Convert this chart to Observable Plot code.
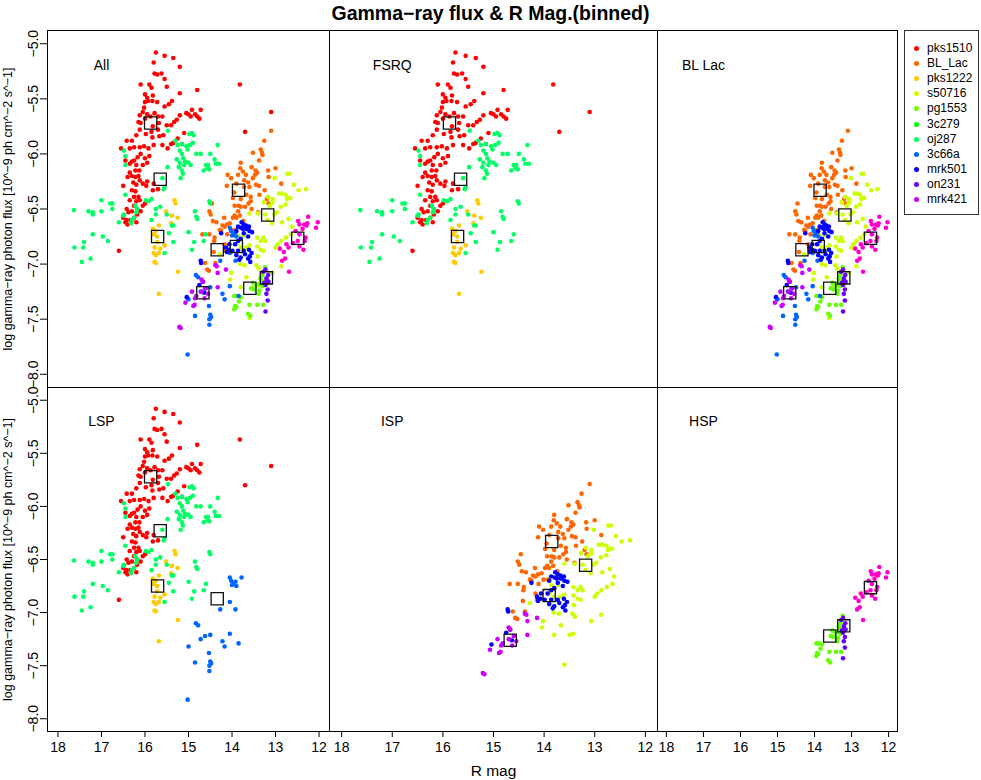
<!DOCTYPE html>
<html><head><meta charset="utf-8">
<script src="https://cdn.jsdelivr.net/npm/d3@7"></script>
<script src="https://cdn.jsdelivr.net/npm/@observablehq/plot@0.6"></script>
<style>
body{margin:0;background:#fff;font-family:"Liberation Sans",Arial,Helvetica,sans-serif;}
#root{position:relative;width:981px;height:780px;overflow:hidden;background:#fff;}
.abs{position:absolute;}
#title{left:0;top:0;width:981px;text-align:center;font-weight:bold;font-size:19.5px;line-height:26px;color:#000;}
#legend{left:904px;top:30px;width:75px;height:185px;border:1px solid #333;box-sizing:border-box;}
.li{position:absolute;font-size:12px;line-height:14px;color:#000;white-space:nowrap;}
.ld{position:absolute;width:5px;height:5px;border-radius:50%;}
</style></head><body><div id="root"><div id="title" class="abs">Gamma−ray flux &amp; R Mag.(binned)</div><div id="legend" class="abs"></div></div>
<script>
// ---- data ----
const sources = ["pks1510","BL_Lac","pks1222","s50716","pg1553","3c279","oj287","3c66a","mrk501","on231","mrk421"];
const legendColors = ["#FF0000","#FF6600","#FFCC00","#CCFF00","#66FF00","#00FF00","#00FF66","#0066FF","#0000FF","#6600FF","#CC00FF"];
const pointColors  = ["#FF0000","#FF6600","#FFCC00","#CCFF00","#66FF00","#00FF66","#0066FF","#0000FF","#6600FF","#CC00FF","#FF00CC"];
const binRmag = [15.87,13.85,15.71,13.18,13.59,15.65,14.34,13.9,13.21,14.67,12.49];
const binFlux = [-5.72,-6.33,-6.75,-6.555,-7.22,-6.23,-6.87,-6.84,-7.125,-7.26,-6.765];
const fsrqList = ["pks1510","pks1222","3c279"];
const bllacList = ["BL_Lac","s50716","pg1553","oj287","3c66a","mrk501","on231","mrk421"];
const lspList = ["pks1510","pks1222","3c279","oj287"];
const ispList = ["BL_Lac","s50716","3c66a","on231"];
const hspList = ["pg1553","mrk501","mrk421"];
const xTicks = [18,17,16,15,14,13,12];
const yTicks = [-8,-7.5,-7,-6.5,-6,-5.5,-5];

const pks1510 = [[15.75,-5.08],[15.55,-5.11],[15.35,-5.13],[15.8,-5.17],[15.78,-5.27],[15.72,-5.28],[15.62,-5.27],[15.2,-5.21],[15.55,-5.32],[16.1,-5.37],[15.9,-5.37],[15.85,-5.4],[15.5,-5.39],[15.2,-5.45],[15.82,-5.47],[16.0,-5.46],[15.95,-5.49],[16.0,-5.53],[16.02,-5.58],[15.93,-5.52],[15.83,-5.52],[15.72,-5.53],[15.55,-5.57],[15.45,-5.55],[15.38,-5.52],[16.05,-5.62],[16.12,-5.65],[16.15,-5.71],[16.1,-5.72],[16.12,-5.78],[16.0,-5.68],[15.95,-5.64],[15.87,-5.66],[15.78,-5.63],[15.7,-5.66],[15.6,-5.66],[15.68,-5.72],[15.82,-5.75],[15.7,-5.78],[15.85,-5.8],[15.98,-5.82],[15.83,-5.85],[15.67,-5.84],[15.58,-5.83],[15.5,-5.74],[15.4,-5.74],[15.33,-5.71],[15.27,-5.69],[15.2,-5.65],[15.05,-5.63],[15.0,-5.64],[14.95,-5.66],[14.92,-5.6],[14.85,-5.64],[14.8,-5.66],[14.75,-5.68],[14.72,-5.6],[14.8,-5.42],[15.1,-5.81],[15.25,-5.86],[15.35,-5.9],[15.4,-5.91],[15.15,-5.91],[16.2,-5.83],[16.3,-5.88],[15.48,-5.95],
[16.42,-5.88],[16.55,-5.95],[16.35,-5.95],[16.25,-5.94],[16.12,-5.94],[16.02,-5.93],[15.92,-5.95],[15.8,-5.92],[15.6,-5.92],[15.9,-6.02],[16.0,-6.04],[16.1,-6.0],[16.17,-6.03],[16.25,-6.06],[16.3,-6.07],[16.35,-6.09],[16.45,-6.06],[16.2,-6.1],[16.05,-6.1],[15.95,-6.08],[16.22,-6.15],[16.13,-6.15],[16.22,-6.21],[16.15,-6.2],[16.35,-6.17],[16.3,-6.2],[16.4,-6.21],[16.27,-6.26],[16.2,-6.28],[16.12,-6.24],[16.05,-6.27],[15.95,-6.25],[15.8,-6.27],[15.7,-6.32],[15.82,-6.33],[15.97,-6.29],[16.5,-6.29],[16.3,-6.33],[16.22,-6.34],[16.25,-6.39],[16.15,-6.39],[16.2,-6.43],[16.25,-6.47],[16.18,-6.5],[16.05,-6.47],[16.12,-6.42],[16.35,-6.42],[16.3,-6.52],[16.18,-6.55],[16.25,-6.58],[16.2,-6.62],[16.33,-6.6],[16.42,-6.6],[16.4,-6.64],[16.45,-6.62],[16.38,-6.53],[16.5,-6.58],[16.42,-6.5],[16.1,-6.52],[16.0,-6.45],
[13.82,-5.37],[13.1,-5.62],[13.7,-5.8],[16.6,-6.88]];
const BL_Lac = [[13.1,-5.79],[13.26,-5.88],[13.34,-5.96],[13.31,-5.99],[13.3,-6.01],[13.52,-5.99],[13.38,-6.06],[13.55,-6.12],[13.8,-6.08],[13.81,-6.13],[13.46,-6.15],[13.42,-6.17],[13.47,-6.19],[13.75,-6.16],[13.68,-6.19],[13.86,-6.19],[14.1,-6.19],[14.02,-6.22],[13.72,-6.24],[13.63,-6.26],[13.45,-6.28],[13.38,-6.29],[13.17,-6.15],[13.0,-6.13],[13.16,-6.21],[12.87,-6.27],[13.67,-6.37],[13.57,-6.39],[13.57,-6.43],[13.37,-6.37],[13.2,-6.41],[13.16,-6.45],[13.8,-6.41],[13.85,-6.47],[13.94,-6.47],[13.8,-6.48],[13.7,-6.48],[13.86,-6.52],[13.94,-6.56],[13.98,-6.58],[13.95,-6.35],[14.12,-6.29],[14.46,-6.45],[14.52,-6.52],[14.49,-6.55],[14.44,-6.61],[14.18,-6.58],[14.12,-6.64],[14.22,-6.65],[14.28,-6.69],[14.17,-6.66],[14.25,-6.7],[14.36,-6.62],[14.4,-6.76],[14.41,-6.79],[14.68,-6.73],[14.52,-6.73],[14.11,-6.73],[14.01,-6.69],[13.92,-6.69],[14.14,-6.88],[14.42,-6.89],[14.17,-6.82],[14.62,-6.99],[14.57,-7.05],[14.53,-7.06],[14.38,-6.99],[13.9,-6.58],[13.74,-6.61],[13.4,-6.53],[13.55,-6.5],[13.6,-6.3],[13.52,-6.22],[13.9,-6.27],[13.72,-6.3],[13.25,-6.33],[13.62,-6.45],[14.05,-6.63],[13.98,-6.4],[13.82,-6.56]];
const pks1222 = [[15.32,-6.42],[15.3,-6.45],[15.25,-6.58],[15.38,-6.56],[15.52,-6.52],[15.4,-6.63],[15.82,-6.68],[15.75,-6.7],[15.68,-6.65],[15.8,-6.73],[15.72,-6.75],[15.78,-6.85],[15.65,-6.86],[15.8,-6.9],[15.75,-6.92],[15.78,-6.98],[15.75,-6.99],[15.68,-6.9],[15.55,-6.83],[15.24,-7.07],[15.68,-7.27],[15.72,-6.8]];
const s50716 = [[12.73,-6.18],[12.68,-6.18],[13.02,-6.22],[12.58,-6.28],[12.3,-6.32],[12.47,-6.33],[12.92,-6.36],[12.85,-6.36],[12.77,-6.37],[12.66,-6.4],[12.74,-6.41],[12.7,-6.4],[13.07,-6.41],[13.17,-6.39],[13.07,-6.44],[13.27,-6.44],[12.77,-6.46],[12.88,-6.48],[12.97,-6.53],[13.13,-6.47],[13.6,-6.54],[13.4,-6.54],[13.24,-6.55],[13.18,-6.6],[13.03,-6.55],[13.08,-6.63],[12.85,-6.62],[12.7,-6.59],[12.62,-6.66],[12.65,-6.73],[12.76,-6.76],[12.87,-6.79],[12.95,-6.82],[13.0,-6.85],[13.28,-6.76],[13.34,-6.79],[13.24,-6.79],[13.42,-6.76],[13.42,-6.84],[13.34,-6.87],[13.28,-6.88],[13.41,-6.93],[13.6,-6.83],[13.68,-6.85],[13.8,-6.85],[13.9,-6.82],[14.28,-6.91],[14.02,-7.08],[14.04,-7.14],[13.81,-7.0],[13.71,-7.01],[13.67,-7.12],[13.8,-7.21],[13.44,-7.01],[13.39,-7.04],[13.43,-7.2],[13.49,-7.21],[12.87,-7.02],[13.07,-7.08],[13.6,-7.49],[13.86,-6.74],[13.72,-6.74]];
const pg1553 = [[13.24,-7.03],[13.3,-7.1],[13.32,-7.15],[13.37,-7.18],[13.43,-7.19],[13.52,-7.17],[13.56,-7.22],[13.49,-7.23],[13.37,-7.24],[13.39,-7.27],[13.95,-7.29],[13.87,-7.29],[13.8,-7.3],[13.84,-7.34],[13.93,-7.38],[13.95,-7.41],[13.9,-7.39],[13.6,-7.37],[13.42,-7.37],[13.28,-7.37],[13.63,-7.45],[13.58,-7.47],[13.3,-7.2],[13.35,-7.13]];
const c3c279 = [[15.47,-5.79],[15.3,-5.88],[15.25,-5.92],[15.15,-5.91],[15.05,-5.93],[15.02,-5.96],[14.97,-5.92],[14.9,-5.9],[15.2,-5.97],[15.15,-6.0],[15.12,-6.04],[15.08,-6.07],[15.0,-6.08],[14.95,-6.1],[15.2,-6.08],[15.22,-6.12],[15.15,-6.15],[15.13,-6.18],[15.18,-6.22],[15.1,-6.1],[15.27,-6.05],[14.82,-6.0],[14.72,-6.0],[14.5,-6.0],[14.4,-6.05],[14.33,-5.92],[14.3,-6.09],[14.37,-6.09],[14.55,-6.1],[14.6,-6.1],[14.57,-6.13],[14.52,-6.14],[14.65,-6.15],[14.98,-5.82],[14.92,-5.81],[14.88,-5.83],[15.48,-6.12],[15.55,-6.3],[15.57,-6.32],[15.6,-6.22],
[16.48,-5.97],[16.45,-6.02],[16.45,-6.1],[16.45,-6.37],[16.48,-6.55],[16.5,-6.56],[16.22,-6.47],[16.18,-6.5],[16.2,-6.53],[16.25,-6.58],[16.3,-6.6],[16.32,-6.63],[16.6,-6.62],[16.8,-6.45],[16.75,-6.45],[16.75,-6.5],[17.0,-6.42],[17.0,-6.52],[17.2,-6.53],[17.2,-6.55],[17.3,-6.52],[17.63,-6.51],[17.2,-6.73],[16.97,-6.75],[16.85,-6.79],[17.4,-6.8],[17.42,-6.85],[17.62,-6.85],[17.25,-6.95],[17.45,-6.98],[15.98,-6.42],[15.92,-6.43],[15.85,-6.41],[15.75,-6.5],[15.75,-6.55],[15.65,-6.48],[15.85,-6.6],[15.5,-6.55],[15.45,-6.72],[15.38,-6.65],[15.35,-6.8],[15.55,-6.9],[15.0,-6.71],[14.85,-6.52],[14.82,-6.57],[14.8,-6.59],[14.92,-6.87],[14.87,-6.8],[14.6,-6.73],[14.65,-6.79],[14.52,-6.43],[14.5,-6.45],[15.35,-6.65]];
const oj287 = [[13.78,-6.67],[14.05,-6.67],[14.02,-6.7],[13.97,-6.73],[13.92,-6.71],[13.9,-6.75],[14.0,-6.74],[14.27,-6.97],[14.05,-6.9],[13.92,-6.97],[14.83,-7.1],[14.78,-7.12],[14.72,-7.25],[14.62,-7.22],[14.5,-7.21],[14.22,-7.27],[14.17,-7.32],[14.05,-7.2],[13.85,-7.29],[15.0,-7.32],[14.53,-7.38],[14.85,-7.47],[14.5,-7.46],[14.48,-7.48],[14.52,-7.5],[14.52,-7.55],[15.02,-7.82]];
const c3c66a = [[13.78,-6.62],[13.73,-6.64],[13.68,-6.65],[13.61,-6.66],[13.79,-6.67],[13.86,-6.66],[13.75,-6.68],[13.67,-6.68],[13.6,-6.7],[13.54,-6.71],[13.9,-6.7],[13.73,-6.72],[13.63,-6.75],[13.8,-6.77],[13.86,-6.79],[13.93,-6.82],[14.06,-6.82],[14.14,-6.85],[13.99,-6.88],[13.86,-6.88],[13.73,-6.88],[13.61,-6.87],[13.55,-6.9],[13.59,-6.93],[13.63,-6.95],[13.58,-6.98],[13.8,-6.94],[13.83,-6.96],[13.7,-6.91],[13.9,-6.92],[14.07,-6.87],[14.12,-6.89],[14.72,-6.97],[14.71,-6.99],[14.67,-7.16],[14.75,-7.19],[14.64,-7.26],[15.04,-7.3],[14.25,-6.72]];
const mrk501 = [[13.23,-7.05],[13.17,-7.1],[13.21,-7.13],[13.16,-7.16],[13.23,-7.19],[13.18,-7.23],[13.21,-7.27],[13.18,-7.33],[13.23,-7.43],[13.28,-7.07],[13.26,-7.17],[13.2,-7.15]];
const on231 = [[14.35,-7.02],[14.33,-7.08],[14.14,-7.05],[14.38,-7.01],[14.33,-7.21],[14.7,-7.14],[14.67,-7.16],[14.6,-7.22],[14.7,-7.25],[14.92,-7.25],[14.85,-7.31],[15.07,-7.35],[14.86,-7.37],[14.89,-7.38],[14.82,-7.29],[14.63,-7.31],[15.18,-7.58],[15.21,-7.57],[14.55,-7.27]];
const mrk421 = [[12.25,-6.57],[12.03,-6.62],[12.07,-6.67],[12.48,-6.61],[12.45,-6.64],[12.34,-6.64],[12.29,-6.65],[12.38,-6.68],[12.54,-6.7],[12.45,-6.73],[12.31,-6.76],[12.33,-6.79],[12.49,-6.79],[12.6,-6.81],[12.75,-6.82],[12.7,-6.85],[12.9,-6.86],[12.81,-6.89],[12.45,-6.84],[12.36,-6.87],[12.78,-6.95],[12.85,-6.97],[12.69,-7.07],[12.27,-6.63]];
const pointsBySource = [pks1510, BL_Lac, pks1222, s50716, pg1553, c3c279, oj287, c3c66a, mrk501, on231, mrk421];

const yTitle = "log gamma−ray photon flux [10^−9 ph cm^−2 s^−1]";
const labelR = 17, labelF = -5.2;

// ---- tables ----
const pts = [];
sources.forEach((s, i) => pointsBySource[i].forEach(([r, f]) => pts.push({src: s, r, f, color: pointColors[i]})));
const bins = sources.map((s, i) => ({src: s, r: binRmag[i], f: binFlux[i]}));

const panels = [
  {name: "All",    list: sources,   left: 0,   top: 30,  w: 329, h: 357, ml: 47, mb: 0,  yAxis: true,  xAxis: false},
  {name: "FSRQ",   list: fsrqList,  left: 329, top: 30,  w: 328, h: 357, ml: 0,  mb: 0,  yAxis: false, xAxis: false},
  {name: "BL Lac", list: bllacList, left: 657, top: 30,  w: 240, h: 357, ml: 0,  mb: 0,  yAxis: false, xAxis: false},
  {name: "LSP",    list: lspList,   left: 0,   top: 387, w: 329, h: 393, ml: 47, mb: 49, yAxis: true,  xAxis: true},
  {name: "ISP",    list: ispList,   left: 329, top: 387, w: 328, h: 393, ml: 0,  mb: 49, yAxis: false, xAxis: true, xTitle: "R mag"},
  {name: "HSP",    list: hspList,   left: 657, top: 387, w: 240, h: 393, ml: 0,  mb: 49, yAxis: false, xAxis: true}
];

const root = document.getElementById("root");
const fmt1 = d3.format(".1f");
for (const p of panels) {
  const set = new Set(p.list);
  const marks = [
    Plot.dot(pts.filter(d => set.has(d.src)), {x: "r", y: "f", fill: "color", r: 2.3}),
    Plot.dot(bins.filter(d => set.has(d.src)), {x: "r", y: "f", symbol: "square", r: 6.9, stroke: "#111", strokeWidth: 1.3, fill: "none"}),
    Plot.text([p.name], {x: () => labelR, y: () => labelF, text: d => d, fontSize: 14, textAnchor: "middle"}),
    Plot.frame({stroke: "#000", strokeWidth: 1})
  ];
  if (p.yAxis) {
    marks.push(Plot.axisY({ticks: yTicks, tickSize: 7, tickFormat: () => "", label: null}));
    marks.push(Plot.text(yTicks, {y: d => d, text: d => fmt1(d), frameAnchor: "left", dx: -13.5, rotate: -90, fontSize: 14, textAnchor: "middle", lineAnchor: "middle"}));
    marks.push(Plot.text([yTitle], {text: d => d, frameAnchor: "left", dx: -40, rotate: -90, fontSize: 12.5, textAnchor: "middle", lineAnchor: "middle"}));
  }
  if (p.xAxis) {
    marks.push(Plot.axisX({ticks: xTicks, tickSize: 6, tickPadding: 5, fontSize: 14, label: null, tickFormat: d3.format("d")}));
  }
  if (p.xTitle) {
    marks.push(Plot.text([p.xTitle], {text: d => d, frameAnchor: "bottom", dy: 40, fontSize: 15.5, textAnchor: "middle", lineAnchor: "middle"}));
  }
  const svg = Plot.plot({
    width: p.w, height: p.h,
    marginLeft: p.ml, marginRight: 0, marginTop: 0, marginBottom: p.mb,
    x: {domain: [18.24, 11.76], axis: null},
    y: {domain: [-8.12, -4.88], axis: null},
    color: {type: "identity"},
    style: {background: "transparent", fontFamily: "'Liberation Sans', Arial, Helvetica, sans-serif", overflow: "visible", color: "#000"},
    marks
  });
  svg.classList.add("abs");
  svg.style.left = p.left + "px";
  svg.style.top = p.top + "px";
  svg.style.position = "absolute";
  root.appendChild(svg);
}

// legend
const legend = document.getElementById("legend");
sources.forEach((s, i) => {
  const cy = 17.7 + 15.06 * i;
  const dot = document.createElement("div");
  dot.className = "ld";
  dot.style.left = (11.5 - 2.5) + "px";
  dot.style.top = (cy - 2.5) + "px";
  dot.style.background = legendColors[i];
  legend.appendChild(dot);
  const t = document.createElement("div");
  t.className = "li";
  t.style.left = "22px";
  t.style.top = (cy - 7.5) + "px";
  t.textContent = s;
  legend.appendChild(t);
});
</script>
</body></html>
